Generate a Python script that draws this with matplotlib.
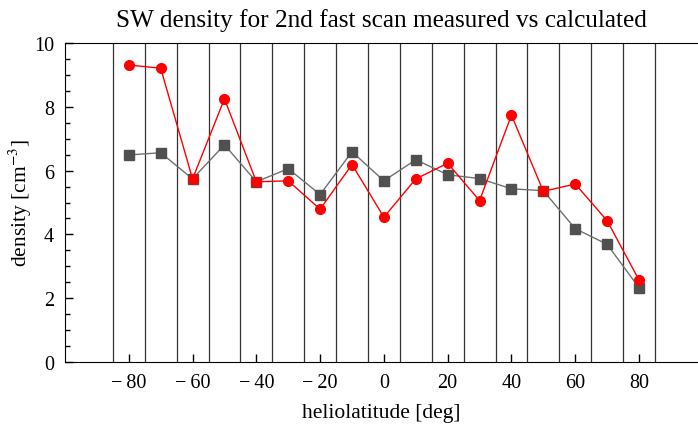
import numpy as np
import matplotlib
matplotlib.use("Agg")
import matplotlib.pyplot as plt
from matplotlib.ticker import MultipleLocator

plt.rcParams['font.family'] = ['Liberation Serif', 'DejaVu Serif']
plt.rcParams['mathtext.fontset'] = 'stix'

# heliolatitude bins and densities
lat = [-80, -70, -60, -50, -40, -30, -20, -10, 0, 10, 20, 30, 40, 50, 60, 70, 80]
measured = [9.31, 9.21, 5.74, 8.25, 5.65, 5.68, 4.79, 6.19, 4.54, 5.74, 6.23,
            5.06, 7.74, 5.35, 5.58, 4.43, 2.57]
calculated = [6.49, 6.56, 5.74, 6.81, 5.65, 6.06, 5.25, 6.59, 5.68, 6.34, 5.87,
              5.75, 5.43, 5.37, 4.18, 3.69, 2.33]
bin_edges = [-85, -75, -65, -55, -45, -35, -25, -15, -5, 5, 15, 25, 35, 45,
             55, 65, 75, 85]
xticks = [-80, -60, -40, -20, 0, 20, 40, 60, 80]

fig = plt.figure(figsize=(6.98, 4.27), dpi=100)
ax = fig.add_axes([65/698, 1 - 363/427, (698 - 65)/698, (363 - 44)/427])

for e in bin_edges:
    ax.axvline(e, color='#333333', lw=0.9, zorder=1)

ax.plot(lat, calculated, color='#707070', lw=1.0, marker='s', ms=6.5,
        mfc='#505050', mec='#505050', zorder=3)
ax.plot(lat, measured, color='#ff0000', lw=1.0, marker='o', ms=7,
        mfc='#ff0000', mec='#ff0000', zorder=4)

ax.set_xlim(-100, 98.5)
ax.set_ylim(0, 10)
ax.set_xticks(xticks)
ax.set_xticklabels(['\u2212\u2009%d' % -v if v < 0 else '%d' % v for v in xticks])
ax.yaxis.set_major_locator(MultipleLocator(2))
ax.yaxis.set_minor_locator(MultipleLocator(0.5))
ax.tick_params(direction='in', labelsize=14.5, length=6, width=1, top=False, right=False)
ax.tick_params(axis='x', pad=8)
ax.tick_params(axis='y', pad=8)
ax.tick_params(which='minor', direction='in', length=3.5, width=1)
ax.spines['right'].set_visible(False)

ax.set_xlabel('heliolatitude [deg]', fontsize=15.5, labelpad=8)
ax.set_ylabel('density [cm$^{-3}$]', fontsize=15.5, labelpad=0)
ax.set_title('SW density for 2nd fast scan measured vs calculated', fontsize=18.2, pad=12)

fig.savefig('out.png', dpi=100)
